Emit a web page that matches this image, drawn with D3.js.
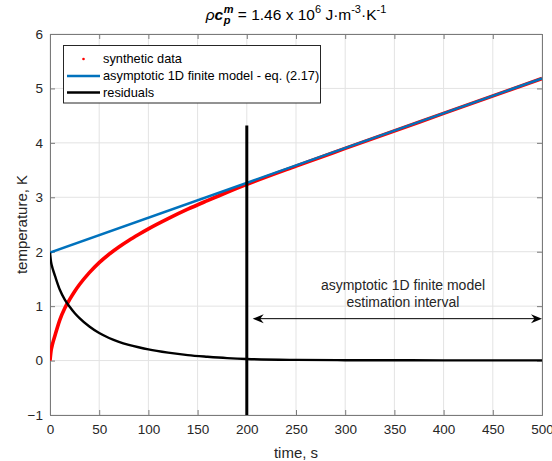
<!DOCTYPE html>
<html><head><meta charset="utf-8">
<script src="https://cdn.jsdelivr.net/npm/d3@7"></script>
<style>
html,body{margin:0;padding:0;background:#fff;}
text{font-family:"Liberation Sans",Arial,Helvetica,sans-serif;white-space:pre;}
</style></head>
<body><svg id="chart" width="552" height="461"></svg>
<script>
// ---- data ----
const sampleTime = [0,1,2,3,5,10,15,20,25,30,40,50,60,70,80,90,100,120,140,160,180,200,250,300,400,500];
const syntheticData = [0,0.171,0.263,0.334,0.457,0.749,0.961,1.123,1.27,1.397,1.616,1.80,1.954,2.088,2.207,2.316,2.42,2.608,2.781,2.939,3.092,3.237,3.573,3.898,4.541,5.182];
const residuals = [1.985,1.82,1.735,1.67,1.56,1.30,1.12,0.99,0.875,0.78,0.625,0.505,0.415,0.345,0.29,0.245,0.205,0.145,0.10,0.07,0.045,0.028,0.012,0.007,0.004,0.003];
const modelTime = [0,500];
const modelTemp = [1.985,5.185];
const xTicks = [0,50,100,150,200,250,300,350,400,450,500];
const yTicks = [-1,0,1,2,3,4,5,6];
const intervalLineTime = 200;
const intervalLineTop = 4.32;
const arrowStart = 206, arrowEnd = 500, arrowLevel = 0.77;
const annotationLines = ["asymptotic 1D finite model","estimation interval"];
const legendLabels = ["synthetic data","asymptotic 1D finite model - eq. (2.17)","residuals"];
const xLabel = "time, s", yLabel = "temperature, K";

// ---- layout ----
const svg = d3.select("#chart");
const L = 50, R = 542, T = 34, B = 415;
const x = d3.scaleLinear().domain([0,500]).range([L,R]);
const y = d3.scaleLinear().domain([-1,6]).range([B,T]);
const axisColor = "#262626";

// grid
const grid = svg.append("g");
grid.selectAll("line.vx").data(xTicks).enter().append("line")
  .attr("x1",d=>x(d)).attr("x2",d=>x(d)).attr("y1",T).attr("y2",B)
  .attr("stroke","#e3e3e3").attr("stroke-width",1);
grid.selectAll("line.hy").data(yTicks).enter().append("line")
  .attr("y1",d=>y(d)).attr("y2",d=>y(d)).attr("x1",L).attr("x2",R)
  .attr("stroke","#e3e3e3").attr("stroke-width",1);

// axes
const tickFont = "13.5px";
const xAxis = svg.append("g").attr("transform",`translate(0,${B})`)
  .call(d3.axisBottom(x).tickValues(xTicks).tickSize(-5).tickPadding(9).tickFormat(d3.format("d")));
const xAxisTop = svg.append("g").attr("transform",`translate(0,${T})`)
  .call(d3.axisTop(x).tickValues(xTicks).tickSize(-5).tickFormat(""));
const yAxis = svg.append("g").attr("transform",`translate(${L},0)`)
  .call(d3.axisLeft(y).tickValues(yTicks).tickSize(-5).tickPadding(7).tickFormat(d3.format("d")));
const yAxisR = svg.append("g").attr("transform",`translate(${R},0)`)
  .call(d3.axisRight(y).tickValues(yTicks).tickSize(-5).tickFormat(""));
[xAxis,xAxisTop,yAxis,yAxisR].forEach(g=>{
  g.select(".domain").attr("stroke","#7a7a7a").attr("stroke-width",1);
  g.selectAll(".tick line").attr("stroke","#7a7a7a");
  g.selectAll("text").attr("fill",axisColor).style("font-size",tickFont).style("font-family","'Liberation Sans',Arial,sans-serif");
});

// axis labels
svg.append("text").attr("x",(L+R)/2).attr("y",458).attr("text-anchor","middle")
  .attr("fill",axisColor).style("font-size","15px").text(xLabel);
svg.append("text").attr("transform",`translate(22,${(T+B)/2}) rotate(-90)`).attr("text-anchor","middle")
  .attr("dy","0.35em").attr("fill",axisColor).style("font-size","15px").text(yLabel);

// clip
svg.append("clipPath").attr("id","clip").append("rect").attr("x",L).attr("y",T).attr("width",R-L).attr("height",B-T);
const plot = svg.append("g").attr("clip-path","url(#clip)");

const line = d3.line().x(d=>x(d[0])).y(d=>y(d[1])).curve(d3.curveMonotoneX);
plot.append("path").datum(sampleTime.map((t,i)=>[t,syntheticData[i]]))
  .attr("d",line).attr("fill","none").attr("stroke","#ff0000").attr("stroke-width",3.6);
plot.append("path").datum(modelTime.map((t,i)=>[t,modelTemp[i]]))
  .attr("d",line).attr("fill","none").attr("stroke","#0072bd").attr("stroke-width",2.4);
plot.append("path").datum(sampleTime.map((t,i)=>[t,residuals[i]]))
  .attr("d",line).attr("fill","none").attr("stroke","#000").attr("stroke-width",2.4);

// vertical interval line
svg.append("line").attr("x1",x(intervalLineTime)).attr("x2",x(intervalLineTime))
  .attr("y1",y(intervalLineTop)).attr("y2",B).attr("stroke","#000").attr("stroke-width",3);

// double arrow
const ay = y(arrowLevel), ax1 = x(arrowStart), ax2 = x(arrowEnd);
svg.append("line").attr("x1",ax1+4).attr("x2",ax2-4).attr("y1",ay).attr("y2",ay)
  .attr("stroke","#000").attr("stroke-width",1);
const hl = 11, hw = 4.5, notch = 3.5;
svg.append("path").attr("d",`M${ax1},${ay} L${ax1+hl},${ay-hw} L${ax1+hl-notch},${ay} L${ax1+hl},${ay+hw} Z`).attr("fill","#000");
svg.append("path").attr("d",`M${ax2},${ay} L${ax2-hl},${ay-hw} L${ax2-hl+notch},${ay} L${ax2-hl},${ay+hw} Z`).attr("fill","#000");
svg.selectAll("text.ann").data(annotationLines).enter().append("text")
  .attr("x",403).attr("y",(d,i)=>290+i*16.7).attr("text-anchor","middle")
  .attr("fill","#262626").style("font-size","14px").text(d=>d);

// legend
const lg = svg.append("g");
lg.append("rect").attr("x",63.5).attr("y",45.5).attr("width",257).attr("height",57.5)
  .attr("fill","#fff").attr("stroke","#262626").attr("stroke-width",1);
const rows = [59,76,92.5];
lg.append("circle").attr("cx",83.5).attr("cy",rows[0]).attr("r",1.3).attr("fill","#ff0000");
lg.append("line").attr("x1",67).attr("x2",100).attr("y1",rows[1]).attr("y2",rows[1]).attr("stroke","#0072bd").attr("stroke-width",2.4);
lg.append("line").attr("x1",67).attr("x2",100).attr("y1",rows[2]).attr("y2",rows[2]).attr("stroke","#000").attr("stroke-width",2.4);
lg.selectAll("text.lg").data(legendLabels).enter().append("text")
  .attr("x",103).attr("y",(d,i)=>rows[i]).attr("dy","0.35em").attr("fill","#000")
  .style("font-size","12.8px").text(d=>d);

// title: ρ c_p^m = 1.46 x 10^6 J·m^-3·K^-1
const tg = svg.append("g");
const fs = 15.5, sfs = 11;
const baseY = 20;
let cx = 0;
function piece(str, size, dyv, opts){
  const t = tg.append("text").attr("x",cx).attr("y",baseY+dyv).style("font-size",size+"px")
    .attr("fill","#000").text(str);
  if(opts && opts.italic) t.style("font-style","italic");
  if(opts && opts.bold) t.style("font-weight","bold");
  const w = t.node().getComputedTextLength();
  return w;
}
const sp = 4.3;
cx += piece("\u03C1", fs, 0, {italic:true});
cx += piece("c", fs, 0, {italic:true,bold:true}) + 0.5;
const wm = piece("m", sfs, -7, {italic:true,bold:true});
const wp = piece("p", sfs, 4, {italic:true,bold:true});
cx += Math.max(wm,wp) + sp;
cx += piece("= 1.46 x 10", fs, 0, {});
cx += piece("6", sfs, -7, {}) + sp;
cx += piece("J\u00B7m", fs, 0, {});
cx += piece("-3", sfs, -7, {});
cx += piece("\u00B7K", fs, 0, {});
cx += piece("-1", sfs, -7, {});
tg.attr("transform",`translate(${(L+R)/2 - cx/2},0)`);
</script></body></html>
